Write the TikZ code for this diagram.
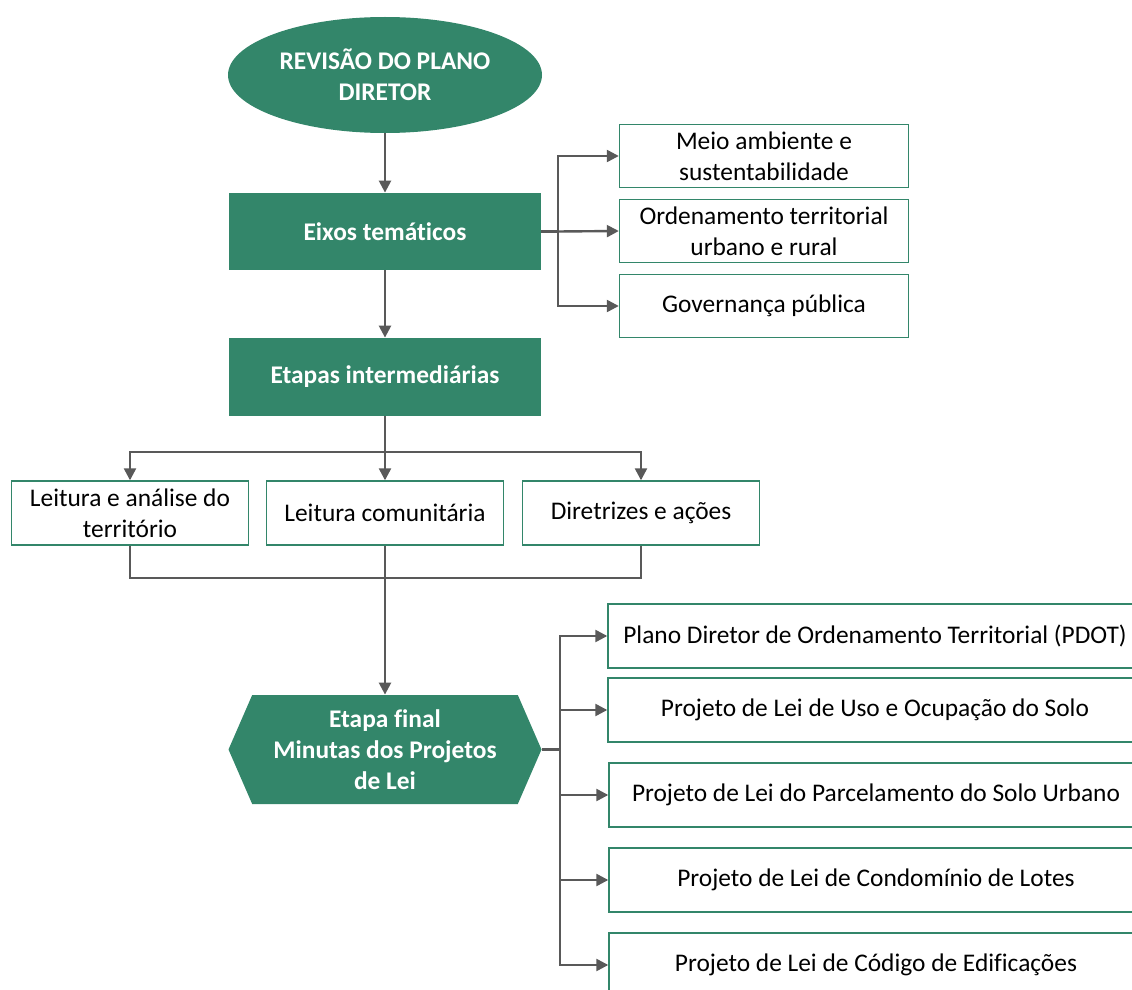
\documentclass[tikz,border=0pt]{standalone}
\usepackage{fontspec}
\setmainfont{Carlito}[Ligatures=CommonOff]
\usetikzlibrary{arrows.meta,shapes.geometric,shapes.symbols}
\definecolor{pgreen}{RGB}{51,134,106}
\definecolor{pgray}{RGB}{89,89,89}
\begin{document}
\begin{tikzpicture}[x=0.5pt,y=-0.5pt,
    every node/.style={font=\fontsize{12.7}{15.5}\selectfont,align=center,inner sep=0pt},
    green/.style={fill=pgreen,text=white,font=\fontsize{12.7}{15.5}\selectfont\bfseries},
    topic/.style={draw=pgreen,line width=0.7pt,fill=white,minimum width=144.5pt,minimum height=31.5pt},
    part/.style={draw=pgreen,line width=0.7pt,fill=white,minimum width=118.5pt,minimum height=32pt},
    law/.style={draw=pgreen,line width=0.7pt,fill=white,minimum width=267pt,minimum height=32pt},
    link/.style={draw=pgray,line width=1.2pt},
    arr/.style={link,-{Triangle[length=6pt,width=6pt]}}]
  \useasboundingbox (0,0) rectangle (1132,990);
  \clip (0,0) rectangle (1132,990);
  \draw
    (385,75) node[green,ellipse,minimum width=157pt,minimum height=58pt] (0){REVISÃO DO PLANO\\DIRETOR}
    (385,231.5) node[green,minimum width=156pt,minimum height=38.5pt] (1){Eixos temáticos}
    (385,377) node[green,minimum width=156pt,minimum height=39pt] (2){Etapas intermediárias}
    (764,156) node[topic] (3){Meio ambiente e\\sustentabilidade}
    (764,231) node[topic] (4){Ordenamento territorial\\urbano e rural}
    (764,306) node[topic] (5){Governança pública}
    (130,513) node[part] (6){Leitura e análise do\\território}
    (385,513) node[part] (7){Leitura comunitária}
    (641,513) node[part] (8){Diretrizes e ações}
    (385,749.5) node[green,signal,signal to=west and east,signal pointer angle=133,
      minimum width=156.5pt,minimum height=54.5pt] (9){Etapa final\\Minutas dos Projetos\\de Lei}
    (875,636) node[law] (10){Plano Diretor de Ordenamento Territorial (PDOT)}
    (875,710) node[law] (11){Projeto de Lei de Uso e Ocupação do Solo}
    (876,795) node[law] (12){Projeto de Lei do Parcelamento do Solo Urbano}
    (876,880) node[law] (13){Projeto de Lei de Condomínio de Lotes}
    (876,965) node[law] (14){Projeto de Lei de Código de Edificações};
  \coordinate (a) at (558,231.5);
  \coordinate (b) at (385,452);
  \coordinate (c) at (385,578);
  \coordinate (d) at (560,749.5);
  \begin{scope}[arr]
    \draw (0) to (1);
    \draw (1) to (2);
    \draw (a) |- (3.west);
    \draw (a) -- (4.west);
    \draw (a) |- (5.west);
    \draw (b) -| (6.north);
    \draw (b) -- (7.north);
    \draw (b) -| (8.north);
    \draw (7.south) -- (9.north);
    \draw (d) |- (10.west);
    \draw (d) |- (11.west);
    \draw (d) |- (12.west);
    \draw (d) |- (13.west);
    \draw (d) |- (14.west);
  \end{scope}
  \begin{scope}[link]
    \draw (1.east) -- (a);
    \draw (2.south) -- (b);
    \draw (6.south) |- (c);
    \draw (8.south) |- (c);
    \draw (9.east) -- (d);
  \end{scope}
\end{tikzpicture}
\end{document}
